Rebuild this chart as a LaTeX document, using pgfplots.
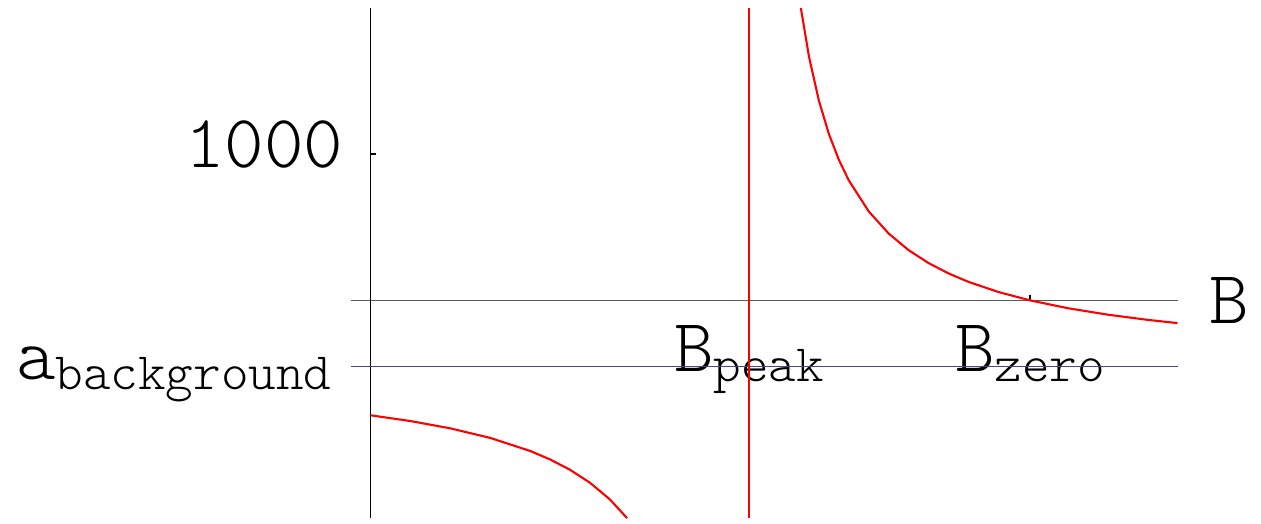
\documentclass[border=0pt]{standalone}
\usepackage{pgfplots}
\pgfplotsset{compat=1.18}
\definecolor{abgline}{RGB}{70,70,140}
\newcommand\lbl{\ttfamily\fontseries{l}\fontsize{21.5}{23}\selectfont}
\newcommand\sub[1]{\raisebox{-0.1cm}{\fontsize{15}{16}\selectfont #1}}

\begin{document}
\begin{tikzpicture}
\begin{axis}[
  scale only axis, width=8.3cm, height=5.12cm,
  xmin=-0.2, xmax=8.1, ymin=-1485, ymax=1995,
  axis lines=middle,
  axis line style={-, line width=0.4pt},
  x axis line style={draw=black!65},
  tick align=inside,
  major tick length=0.05cm,
  tick style={black, line width=0.4pt},
  xtick={3.8,6.62}, xticklabels={B\sub{peak}, B\sub{zero}},
  ytick={-450,1000},
  yticklabels={\raisebox{-0.13cm}{a\sub{background}}\hspace{0.12cm}\mbox{},\raisebox{-0.14cm}{1000}},
  every tick label/.append style={font=\lbl},
  yticklabel style={anchor=base east, xshift=-0.15cm},
  xticklabel style={anchor=base, yshift=-0.71cm},
  clip=false,
]
% background scattering length
\addplot[abgline, line width=0.4pt] coordinates {(-0.2,-450) (8.1,-450)};
% resonance position
\addplot[red, line width=0.6pt] coordinates {(3.8,-1485) (3.8,1995)};
% a(B) below resonance
\addplot[red, line width=0.6pt] coordinates {
  (0,-784.0) (0.4,-823.2) (0.8,-873.0) (1.2,-938.1) (1.6,-1026.8)
  (1.8,-1084.5) (2.0,-1155.0) (2.2,-1243.1) (2.4,-1356.4) (2.574,-1485)
};
% a(B) above resonance
\addplot[red, line width=0.6pt] coordinates {
  (4.319,1995) (4.4,1665) (4.5,1362.9) (4.6,1136.3) (4.7,960.0)
  (4.8,819.0) (5.0,607.5) (5.2,456.4) (5.4,343.1) (5.6,255.0)
  (5.8,184.5) (6.0,126.8) (6.3,57.6) (6.62,0) (7.0,-53.4)
  (7.4,-97.5) (7.8,-132.8) (8.1,-154.9)
};
\node[anchor=west, font=\lbl, xshift=0.2cm] at (axis cs:8.1,0) {B};
\end{axis}
\path (current axis.south west) ++(-3.52cm,-0.05cm) rectangle ++(12.61cm,5.25cm);
\end{tikzpicture}
\end{document}
